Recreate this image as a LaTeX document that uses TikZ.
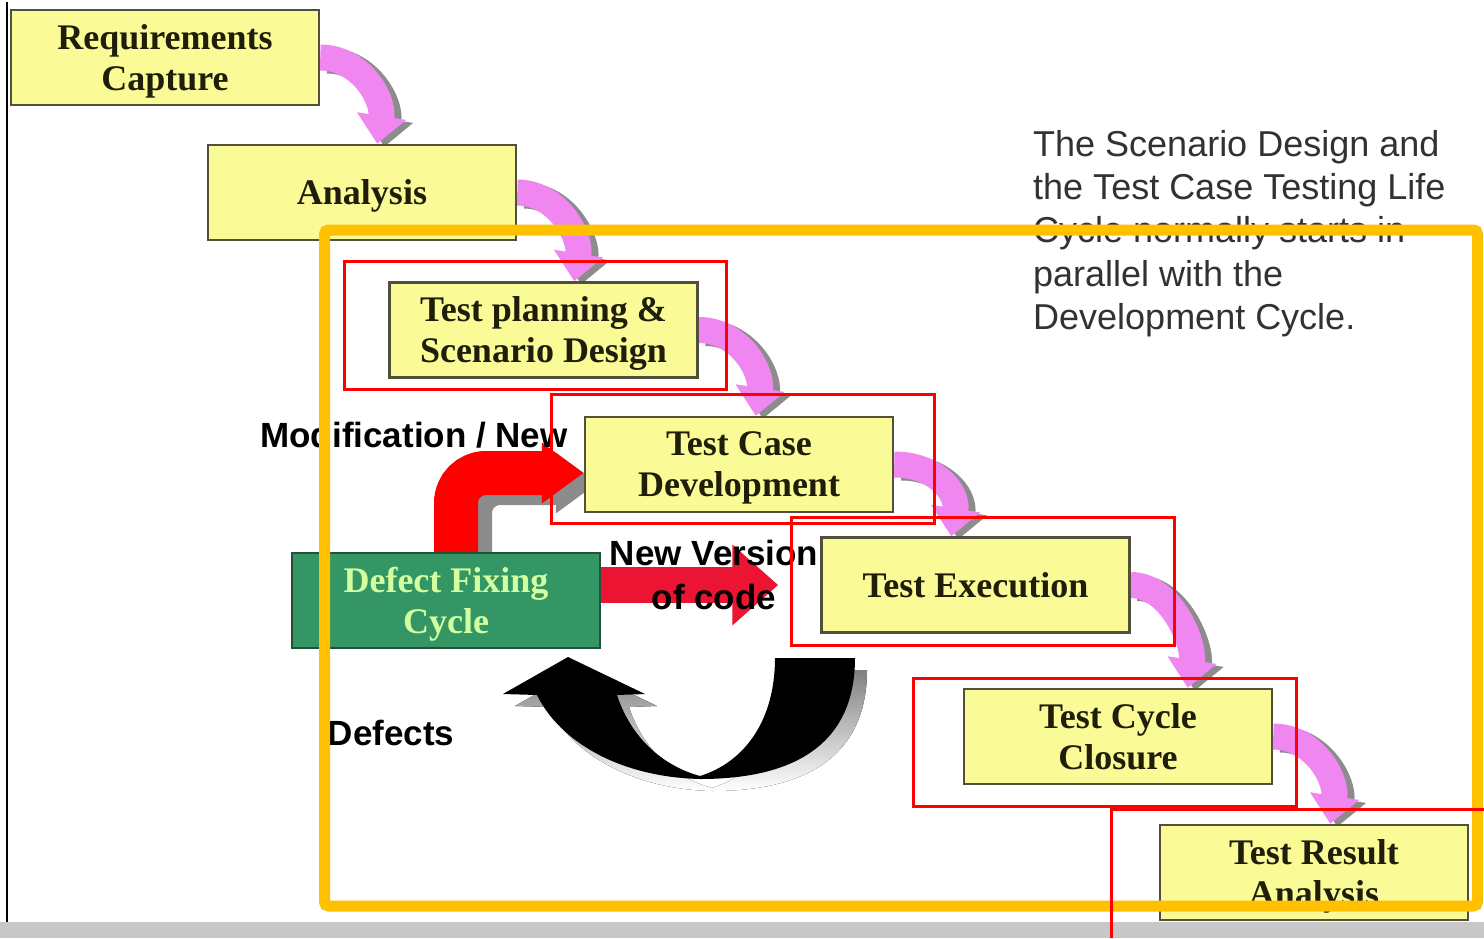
\documentclass[tikz,border=0pt]{standalone}
\usepackage{fontspec}
\setmainfont{Liberation Serif}
\setsansfont{Liberation Sans}
\usetikzlibrary{arrows.meta,calc,backgrounds}

\definecolor{boxfill}{RGB}{250,250,150}
\definecolor{boxline}{RGB}{80,80,60}
\definecolor{boxtext}{RGB}{30,30,10}
\definecolor{fixfill}{RGB}{51,150,100}
\definecolor{fixline}{RGB}{35,80,55}
\definecolor{fixtext}{RGB}{210,255,160}
\definecolor{flow}{RGB}{240,135,240}
\definecolor{shade}{RGB}{140,140,140}
\definecolor{modred}{RGB}{255,0,0}
\definecolor{codered}{RGB}{235,20,50}
\definecolor{frameorange}{RGB}{255,192,0}
\definecolor{markred}{RGB}{255,0,0}
\definecolor{notegray}{RGB}{50,50,50}
\definecolor{bandgray}{RGB}{200,200,200}

% curved pink link from one stage to the next, with its grey shadow
\newcommand\stagelink[2]{%
  \draw[flowshade] ($(#1.east)+(7,3)$) .. controls ($(#1.east)+(47,3)$) and ($(#1.north east |- #2.north)+(71,-42)$) .. ($(#1.north east |- #2.north)+(64,3)$);
  \draw[flowarrow] (#1.east) .. controls ($(#1.east)+(40,0)$) and ($(#1.north east |- #2.north)+(64,-45)$) .. ($(#1.north east |- #2.north)+(57,0)$);
}

\begin{document}
\begin{tikzpicture}[x=1pt,y=-1pt,
  stage/.style={draw=boxline, line width=2.5pt, fill=boxfill, text=boxtext,
    minimum width=308pt, minimum height=95pt, inner sep=0pt, align=center,
    text depth=0pt, font=\bfseries\fontsize{36}{41}\selectfont},
  fixbox/.style={stage, draw=fixline, fill=fixfill, text=fixtext},
  flowarrow/.style={draw=flow, line width=26pt, -{Triangle[width=48pt,length=28pt]}},
  flowshade/.style={draw=shade, line width=26pt, -{Triangle[width=48pt,length=28pt]}},
  modarrow/.style={line width=44pt, rounded corners=30pt, -{Triangle[width=58pt,length=42pt]}},
  codearrow/.style={draw=codered, line width=36pt, -{Triangle[width=78pt,length=46pt]}},
  label/.style={inner sep=0pt, align=center, text=black,
    font=\sffamily\bfseries\fontsize{35}{44}\selectfont},
  note/.style={inner sep=0pt, anchor=base west, text=notegray,
    font=\sffamily\fontsize{36}{43}\selectfont},
  markbox/.style={draw=markred, line width=3pt}
]
\useasboundingbox (0,0) rectangle (1484,938);

% stages of the life cycle
\node[stage] (req) at (165,57.5) {Requirements\\Capture};
\node[stage] (ana) at (362,192.5) {Analysis};
\node[stage] (tps) at (543.5,330) {Test planning \&\\Scenario Design};
\node[stage] (tcd) at (739,464.5) {Test Case\\Development};
\node[stage] (tex) at (975.5,585) {Test Execution};
\node[stage] (tcc) at (1118,736.5) {Test Cycle\\Closure};
\node[stage] (tra) at (1314,872.5) {Test Result\\Analysis};
\node[fixbox] (dfc) at (446,600.5) {Defect Fixing\\Cycle};

\begin{scope}[on background layer]
  \fill[white] (0,0) rectangle (1484,938);
  \stagelink{req}{ana}
  \stagelink{ana}{tps}
  \stagelink{tps}{tcd}
  \stagelink{tcd}{tex}
  \stagelink{tex}{tcc}
  \stagelink{tcc}{tra}
  % fixes sent back to test case development
  \draw[modarrow, draw=shade] ([xshift=24pt,yshift=-10pt]dfc.north) |- ([xshift=14pt,yshift=-18.5pt]tcd.west);
  \draw[modarrow, draw=modred] ([xshift=10pt]dfc.north) |- ([yshift=-8.5pt]tcd.west);
  % new version of code into execution
  \draw[codearrow] ([yshift=15.5pt]dfc.east) -- ([xshift=-42pt]tex.west);
  % defects loop
  \foreach \dx/\dy/\c in {12/12/shade, 0/0/black} {
    \begin{scope}[shift={(\dx,\dy)}]
      \fill[\c] (775,658) -- (855,658) .. controls (855,740) and (800,779) .. (700,779)
        .. controls (620,777) and (560,742) .. (537,695)
        -- (503,694) -- (568,657) -- (645,694) -- (617,695)
        .. controls (630,735) and (660,765) .. (700,776)
        .. controls (745,762) and (775,720) .. (775,658) -- cycle;
    \end{scope}
  }
\end{scope}

% labels
\node[label] (modtxt) at (414,435) {Modification / New};
\node[label] (nvtxt) at (714,575) {New Version\\of code};
\node[label] (deftxt) at (391,733) {Defects};

% side note
\node[note] (n1) at (1033,156) {The Scenario Design and};
\node[note] (n2) at (1033,199) {the Test Case Testing Life};
\node[note] (n3) at (1033,242) {Cycle normally starts in};
\node[note] (n4) at (1033,286) {parallel with the};
\node[note] (n5) at (1033,329) {Development Cycle.};

% page edges
\draw[line width=2pt] (7,2) -- (7,922);
\fill[bandgray] (0,922) rectangle (1484,938);

% highlight frames
\draw[frameorange, line width=11pt, rounded corners=4pt] (324.5,230) rectangle (1477.5,906);
\draw[markbox] (344.5,261.5) rectangle (726.5,389.5);
\draw[markbox] (551.5,394.5) rectangle (934.5,523.5);
\draw[markbox] (791.5,517.5) rectangle (1174.5,645.5);
\draw[markbox] (913.5,678.5) rectangle (1296.5,806.5);
\draw[markbox] (1484,809.5) -| (1111.5,938);
\end{tikzpicture}
\end{document}
